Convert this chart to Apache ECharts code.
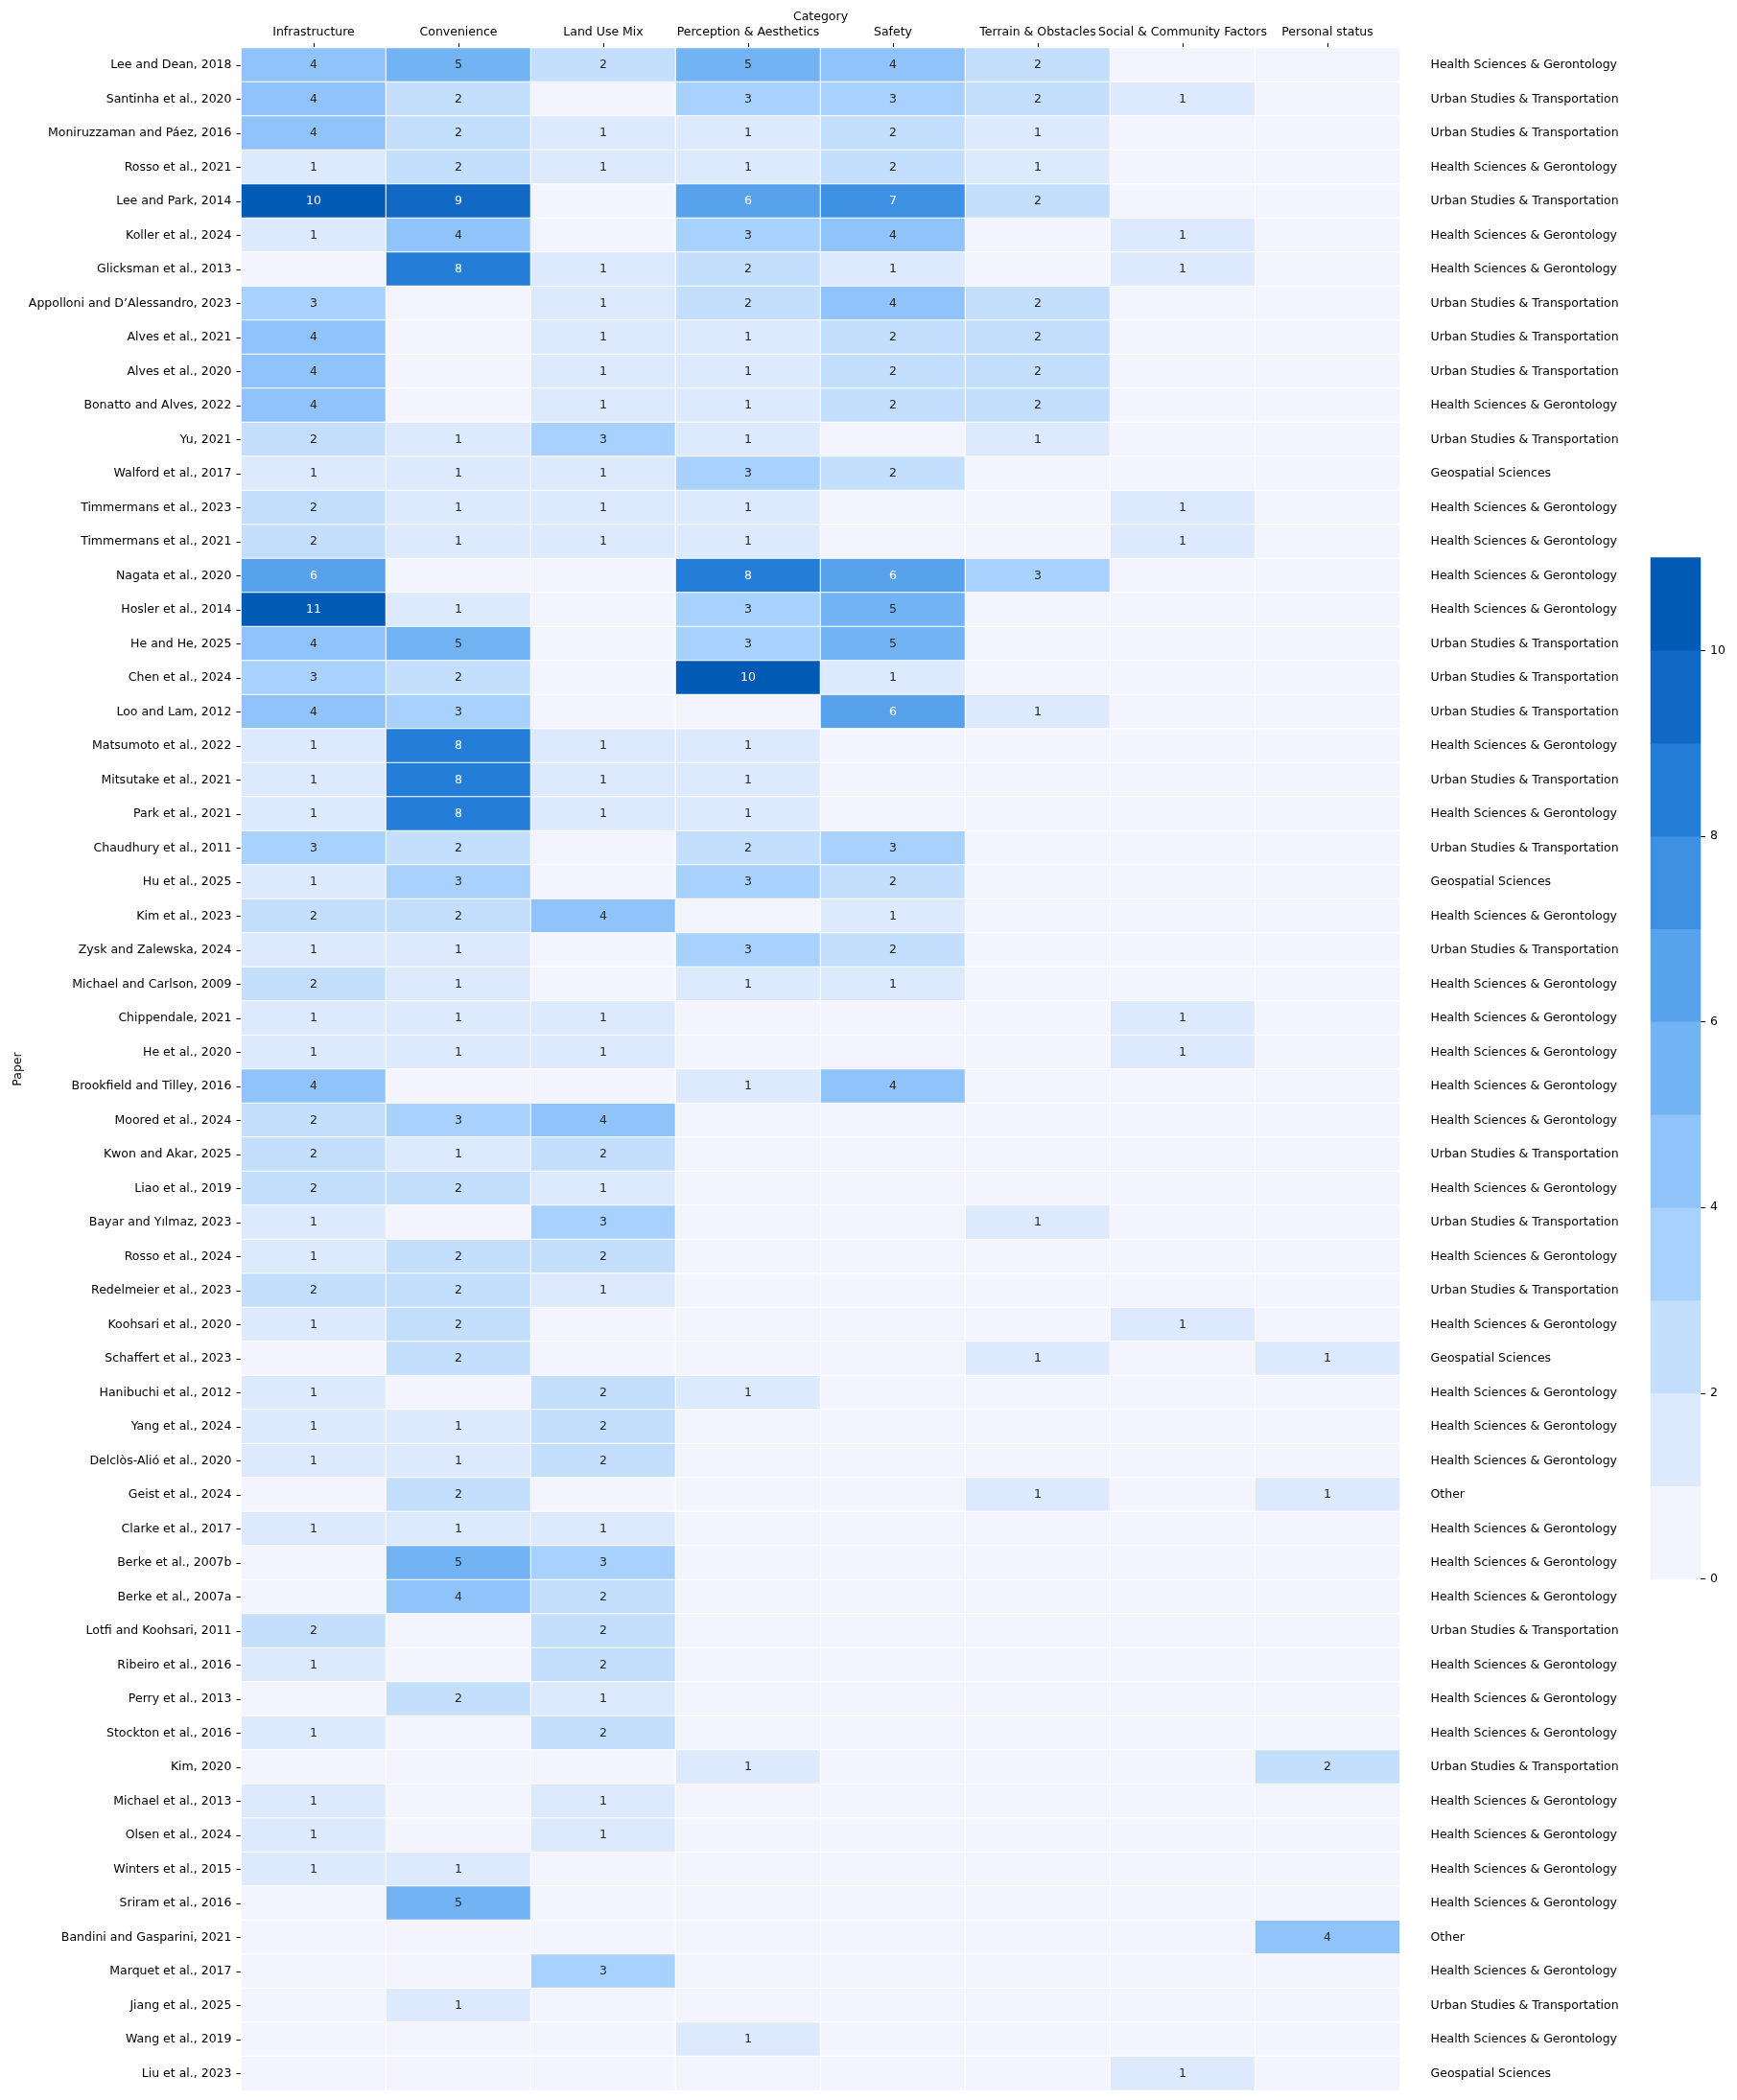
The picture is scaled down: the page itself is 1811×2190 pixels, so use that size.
<!DOCTYPE html>
<html>
<head>
<meta charset="utf-8">
<script src="https://cdn.jsdelivr.net/npm/echarts@6/dist/echarts.min.js"></script>
<style>
html,body{margin:0;padding:0;background:#fff;}
#chart{width:1811px;height:2190px;}
</style>
</head>
<body>
<div id="chart"></div>
<script>
const categories = ["Infrastructure","Convenience","Land Use Mix","Perception & Aesthetics","Safety","Terrain & Obstacles","Social & Community Factors","Personal status"];

const papers = [
"Lee and Dean, 2018","Santinha et al., 2020","Moniruzzaman and Páez, 2016","Rosso et al., 2021","Lee and Park, 2014",
"Koller et al., 2024","Glicksman et al., 2013","Appolloni and D’Alessandro, 2023","Alves et al., 2021","Alves et al., 2020",
"Bonatto and Alves, 2022","Yu, 2021","Walford et al., 2017","Timmermans et al., 2023","Timmermans et al., 2021",
"Nagata et al., 2020","Hosler et al., 2014","He and He, 2025","Chen et al., 2024","Loo and Lam, 2012",
"Matsumoto et al., 2022","Mitsutake et al., 2021","Park et al., 2021","Chaudhury et al., 2011","Hu et al., 2025",
"Kim et al., 2023","Zysk and Zalewska, 2024","Michael and Carlson, 2009","Chippendale, 2021","He et al., 2020",
"Brookfield and Tilley, 2016","Moored et al., 2024","Kwon and Akar, 2025","Liao et al., 2019","Bayar and Yılmaz, 2023",
"Rosso et al., 2024","Redelmeier et al., 2023","Koohsari et al., 2020","Schaffert et al., 2023","Hanibuchi et al., 2012",
"Yang et al., 2024","Delclòs-Alió et al., 2020","Geist et al., 2024","Clarke et al., 2017","Berke et al., 2007b",
"Berke et al., 2007a","Lotfi and Koohsari, 2011","Ribeiro et al., 2016","Perry et al., 2013","Stockton et al., 2016",
"Kim, 2020","Michael et al., 2013","Olsen et al., 2024","Winters et al., 2015","Sriram et al., 2016",
"Bandini and Gasparini, 2021","Marquet et al., 2017","Jiang et al., 2025","Wang et al., 2019","Liu et al., 2023"
];

const HSG = "Health Sciences & Gerontology", UST = "Urban Studies & Transportation", GEO = "Geospatial Sciences", OTH = "Other";
const disciplines = [
HSG,UST,UST,HSG,UST,HSG,HSG,UST,UST,UST,
HSG,UST,GEO,HSG,HSG,HSG,HSG,UST,UST,UST,
HSG,UST,HSG,UST,GEO,HSG,UST,HSG,HSG,HSG,
HSG,HSG,UST,HSG,UST,HSG,UST,HSG,GEO,HSG,
HSG,HSG,OTH,HSG,HSG,HSG,UST,HSG,HSG,HSG,
UST,HSG,HSG,HSG,HSG,OTH,HSG,UST,HSG,GEO
];

const infrastructure = [
4,4,4,1,10,1,0,3,4,4,
4,2,1,2,2,6,11,4,3,4,
1,1,1,3,1,2,1,2,1,1,
4,2,2,2,1,1,2,1,0,1,
1,1,0,1,0,0,2,1,0,1,
0,1,1,1,0,0,0,0,0,0];
const convenience = [
5,2,2,2,9,4,8,0,0,0,
0,1,1,1,1,0,1,5,2,3,
8,8,8,2,3,2,1,1,1,1,
0,3,1,2,0,2,2,2,2,0,
1,1,2,1,5,4,0,0,2,0,
0,0,0,1,5,0,0,1,0,0];
const landUseMix = [
2,0,1,1,0,0,1,1,1,1,
1,3,1,1,1,0,0,0,0,0,
1,1,1,0,0,4,0,0,1,1,
0,4,2,1,3,2,1,0,0,2,
2,2,0,1,3,2,2,2,1,2,
0,1,1,0,0,0,3,0,0,0];
const perception = [
5,3,1,1,6,3,2,2,1,1,
1,1,3,1,1,8,3,3,10,0,
1,1,1,2,3,0,3,1,0,0,
1,0,0,0,0,0,0,0,0,1,
0,0,0,0,0,0,0,0,0,0,
1,0,0,0,0,0,0,0,1,0];
const safety = [
4,3,2,2,7,4,1,4,2,2,
2,0,2,0,0,6,5,5,1,6,
0,0,0,3,2,1,2,1,0,0,
4,0,0,0,0,0,0,0,0,0,
0,0,0,0,0,0,0,0,0,0,
0,0,0,0,0,0,0,0,0,0];
const terrain = [
2,2,1,1,2,0,0,2,2,2,
2,1,0,0,0,3,0,0,0,1,
0,0,0,0,0,0,0,0,0,0,
0,0,0,0,1,0,0,0,1,0,
0,0,1,0,0,0,0,0,0,0,
0,0,0,0,0,0,0,0,0,0];
const social = [
0,1,0,0,0,1,1,0,0,0,
0,0,0,1,1,0,0,0,0,0,
0,0,0,0,0,0,0,0,1,1,
0,0,0,0,0,0,0,1,0,0,
0,0,0,0,0,0,0,0,0,0,
0,0,0,0,0,0,0,0,0,1];
const personal = [
0,0,0,0,0,0,0,0,0,0,
0,0,0,0,0,0,0,0,0,0,
0,0,0,0,0,0,0,0,0,0,
0,0,0,0,0,0,0,0,1,0,
0,0,1,0,0,0,0,0,0,0,
2,0,0,0,0,4,0,0,0,0];

const colorbarTicks = [0,2,4,6,8,10];
const colorbarBins = [0,1,2,3,4,5,6,7,8,9,10];

// style palette (11 discrete colours, 0..11)
const palette = ["#f3f4fd","#dde9fd","#c4defd","#a9d1fd","#8fc3fa","#72b3f3","#58a2ec","#3e90e2","#247ed8","#1268c5","#015bb5"];

const columns = [infrastructure, convenience, landUseMix, perception, safety, terrain, social, personal];
const heatData = [];
columns.forEach((col, ci) => col.forEach((v, ri) => heatData.push([ci, ri, v])));
const barData = colorbarBins.map(b => [0, b, b + 0.5]);

const FONT = "DejaVu Sans";
const pieces = palette.map((c, i) => i < palette.length - 1 ? {gte: i, lt: i + 1, color: c} : {gte: i, lte: i + 1, color: c});

const chart = echarts.init(document.getElementById('chart'), null, {renderer: 'canvas'});
chart.setOption({
  animation: false,
  backgroundColor: '#fff',
  textStyle: {fontFamily: FONT},
  grid: [
    {left: 251.5, top: 50, width: 1208, height: 2130},
    {left: 1721, top: 581.5, width: 52, height: 1065}
  ],
  visualMap: {
    type: 'piecewise', show: false, seriesIndex: [0, 1], dimension: 2, pieces: pieces
  },
  xAxis: [
    {
      type: 'category', gridIndex: 0, position: 'top', data: categories,
      name: 'Category', nameLocation: 'middle', nameGap: 26, nameMoveOverlap: false,
      nameTextStyle: {fontFamily: FONT, fontSize: 12.5, color: '#000'},
      axisLine: {show: false},
      axisTick: {show: true, alignWithLabel: true, length: 5, lineStyle: {color: '#000', width: 1}},
      axisLabel: {interval: 0, margin: 10, fontFamily: FONT, fontSize: 12.5, color: '#000', hideOverlap: false},
      splitLine: {show: false}
    },
    {
      type: 'category', gridIndex: 1, data: ['c'],
      axisLine: {show: false}, axisTick: {show: false}, axisLabel: {show: false}, splitLine: {show: false}
    }
  ],
  yAxis: [
    {
      type: 'category', gridIndex: 0, data: papers, inverse: true,
      name: 'Paper', nameLocation: 'middle', nameGap: 226, nameRotate: 90, nameMoveOverlap: false,
      nameTextStyle: {fontFamily: FONT, fontSize: 12.5, color: '#000'},
      axisLine: {show: false},
      axisTick: {show: true, alignWithLabel: true, length: 5, lineStyle: {color: '#000', width: 1}},
      axisLabel: {interval: 0, margin: 10, fontFamily: FONT, fontSize: 12.5, color: '#000'},
      splitLine: {show: false}
    },
    {
      type: 'category', gridIndex: 0, data: papers, inverse: true, position: 'right',
      axisLine: {show: false}, axisTick: {show: false},
      axisLabel: {interval: 0, margin: 32, align: 'left', fontFamily: FONT, fontSize: 12.5, color: '#000',
        formatter: (v, i) => disciplines[i]},
      splitLine: {show: false}
    },
    {
      type: 'category', gridIndex: 1, data: colorbarBins,
      axisLine: {show: false}, axisTick: {show: false}, axisLabel: {show: false}, splitLine: {show: false}
    },
    {
      type: 'value', gridIndex: 1, position: 'right', min: 0, max: 11, interval: 1,
      axisLine: {show: false},
      axisTick: {show: true, length: 5, lineStyle: {color: '#000', width: 1}, customValues: colorbarTicks},
      axisLabel: {margin: 10, fontFamily: FONT, fontSize: 12.5, color: '#000', customValues: colorbarTicks},
      splitLine: {show: false}
    }
  ],
  series: [
    {
      type: 'heatmap', xAxisIndex: 0, yAxisIndex: 0, data: heatData,
      itemStyle: {borderColor: '#ffffff', borderWidth: 1},
      label: {
        show: true, fontFamily: FONT, fontSize: 12.5,
        formatter: p => p.value[2] > 0 ? (p.value[2] >= 6 ? '{w|' + p.value[2] + '}' : '{d|' + p.value[2] + '}') : '',
        rich: {
          w: {color: '#ffffff', fontFamily: FONT, fontSize: 12.5},
          d: {color: '#262626', fontFamily: FONT, fontSize: 12.5}
        }
      },
      emphasis: {disabled: true}
    },
    {
      type: 'heatmap', xAxisIndex: 1, yAxisIndex: 2, data: barData,
      itemStyle: {borderWidth: 0},
      label: {show: false},
      emphasis: {disabled: true}
    }
  ]
});
</script>
</body>
</html>
